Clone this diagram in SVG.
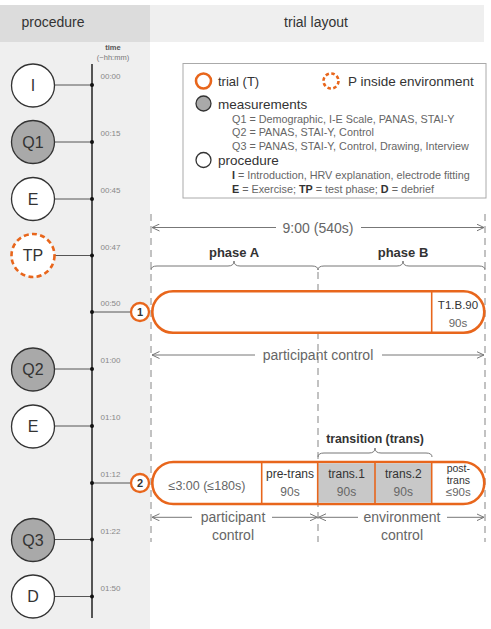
<svg xmlns="http://www.w3.org/2000/svg" width="491" height="629" viewBox="0 0 491 629">
<defs>
<marker id="ah" viewBox="0 0 8 8" refX="7.5" refY="4" markerWidth="8" markerHeight="8" markerUnits="userSpaceOnUse" orient="auto-start-reverse">
<path d="M0,0.5 L7.5,4 L0,7.5" fill="none" stroke="#777" stroke-width="1"/>
</marker>
<style>
text{font-family:"Liberation Sans",Arial,sans-serif;}
.hd{font-size:14px;fill:#333;text-anchor:middle;}
.node circle{stroke:#333;stroke-width:1.3;fill:#fff;}
.node.q circle{fill:#a9a9a9;}
.node text{font-size:16px;fill:#333;text-anchor:middle;dominant-baseline:central;}
.tm{font-size:8px;fill:#888;}
.conn{stroke:#555;stroke-width:1;}
.dot{fill:#111;}
.dash{stroke:#9a9a9a;stroke-width:1.2;stroke-dasharray:7,5;fill:none;}
.arr{stroke:#777;stroke-width:1;fill:none;}
.brace{stroke:#777;stroke-width:1;fill:none;}
.or{stroke:#e8661c;stroke-width:2.6;fill:#fff;}
.ordv{stroke:#e8661c;stroke-width:1.6;}
.g{fill:#666;}
.k{fill:#333;}
.b{font-weight:bold;}
</style>
</defs>

<!-- backgrounds -->
<rect x="0" y="5" width="150" height="37" fill="#dcdcdc"/>
<rect x="150" y="5" width="334" height="37" fill="#efefef"/>
<rect x="0" y="42" width="150" height="587" fill="#efefef"/>
<text class="hd" x="53" y="27">procedure</text>
<text class="hd" x="316" y="27">trial layout</text>

<text x="113" y="50" font-size="7.5" font-weight="bold" fill="#555" text-anchor="middle">time</text>
<text x="113" y="60" font-size="7.5" fill="#777" text-anchor="middle">(~hh:mm)</text>

<!-- legend -->
<g id="legend">
<rect x="183" y="63.5" width="303" height="134.5" fill="#fff" stroke="#aaa" stroke-width="1"/>
<circle cx="203.5" cy="81" r="7.5" fill="#fff" stroke="#e8661c" stroke-width="2.6"/>
<text x="218" y="86" font-size="13" class="k">trial (T)</text>
<circle cx="331" cy="81" r="7.5" fill="#fff" stroke="#e8661c" stroke-width="2.6" stroke-dasharray="3.5,2.4"/>
<text x="348" y="86" font-size="13.5" class="k">P inside environment</text>
<circle cx="203.5" cy="103.5" r="7.5" fill="#a9a9a9" stroke="#333" stroke-width="1.3"/>
<text x="218" y="108.5" font-size="13.5" class="k">measurements</text>
<text x="232" y="123" font-size="10.8" class="g">Q1 = Demographic, I-E Scale, PANAS, STAI-Y</text>
<text x="232" y="136" font-size="10.8" class="g">Q2 = PANAS, STAI-Y, Control</text>
<text x="232" y="150" font-size="10.8" class="g">Q3 = PANAS, STAI-Y, Control, Drawing, Interview</text>
<circle cx="203.5" cy="160" r="7.5" fill="#fff" stroke="#333" stroke-width="1.3"/>
<text x="218" y="165" font-size="13.5" class="k">procedure</text>
<text x="232" y="179" font-size="10.8" class="g"><tspan class="b" fill="#333">I</tspan> = Introduction, HRV explanation, electrode fitting</text>
<text x="232" y="192.5" font-size="10.8" class="g"><tspan class="b" fill="#333">E</tspan> = Exercise; <tspan class="b" fill="#333">TP</tspan> = test phase; <tspan class="b" fill="#333">D</tspan> = debrief</text>
</g>

<!-- connectors -->
<g id="connectors">
<line x1="92" y1="64" x2="92" y2="618" stroke="#222" stroke-width="1.5"/>
<line class="conn" x1="55" y1="85" x2="92" y2="85"/>
<line class="conn" x1="55" y1="142" x2="92" y2="142"/>
<line class="conn" x1="55" y1="199" x2="92" y2="199"/>
<line class="conn" x1="55" y1="255.5" x2="92" y2="255.5"/>
<line class="conn" x1="92" y1="312" x2="131" y2="312"/>
<line class="conn" x1="55" y1="369" x2="92" y2="369"/>
<line class="conn" x1="55" y1="426" x2="92" y2="426"/>
<line class="conn" x1="92" y1="483" x2="131" y2="483"/>
<line class="conn" x1="55" y1="539.5" x2="92" y2="539.5"/>
<line class="conn" x1="55" y1="596.5" x2="92" y2="596.5"/>
<circle class="dot" cx="92" cy="85" r="2"/>
<circle class="dot" cx="92" cy="142" r="2"/>
<circle class="dot" cx="92" cy="199" r="2"/>
<circle class="dot" cx="92" cy="255.5" r="2"/>
<circle class="dot" cx="92" cy="312" r="2"/>
<circle class="dot" cx="92" cy="369" r="2"/>
<circle class="dot" cx="92" cy="426" r="2"/>
<circle class="dot" cx="92" cy="483" r="2"/>
<circle class="dot" cx="92" cy="539.5" r="2"/>
<circle class="dot" cx="92" cy="596.5" r="2"/>
</g>

<!-- time labels -->
<g id="times">
<text class="tm" x="100.5" y="79">00:00</text>
<text class="tm" x="100.5" y="136">00:15</text>
<text class="tm" x="100.5" y="193">00:45</text>
<text class="tm" x="100.5" y="249.5">00:47</text>
<text class="tm" x="100.5" y="306">00:50</text>
<text class="tm" x="100.5" y="363">01:00</text>
<text class="tm" x="100.5" y="420">01:10</text>
<text class="tm" x="100.5" y="476.5">01:12</text>
<text class="tm" x="100.5" y="533.5">01:22</text>
<text class="tm" x="100.5" y="590.5">01:50</text>
</g>

<!-- procedure nodes -->
<g id="node-I" class="node"><circle cx="33" cy="85.5" r="21.5"/><text x="33" y="85.5">I</text></g>
<g id="node-Q1" class="node q"><circle cx="33" cy="142" r="21.5"/><text x="33" y="142">Q1</text></g>
<g id="node-E1" class="node"><circle cx="33" cy="199" r="21.5"/><text x="33" y="199">E</text></g>
<g id="node-TP" class="node"><circle cx="33" cy="255.5" r="21.5" style="stroke:#e8661c;stroke-width:2.6;stroke-dasharray:5,3.3"/><text x="33" y="255.5">TP</text></g>
<g id="node-Q2" class="node q"><circle cx="33" cy="369.5" r="21.5"/><text x="33" y="369.5">Q2</text></g>
<g id="node-E2" class="node"><circle cx="33" cy="426.5" r="21.5"/><text x="33" y="426.5">E</text></g>
<g id="node-Q3" class="node q"><circle cx="33" cy="540" r="21.5"/><text x="33" y="540">Q3</text></g>
<g id="node-D" class="node"><circle cx="33" cy="596.5" r="21.5"/><text x="33" y="596.5">D</text></g>

<!-- dashed guides -->
<line class="dash" x1="151" y1="214" x2="151" y2="542"/>
<line class="dash" x1="318" y1="272" x2="318" y2="542"/>
<line class="dash" x1="485" y1="214" x2="485" y2="542"/>

<!-- top dimension -->
<line class="arr" x1="276" y1="227.5" x2="152" y2="227.5" marker-end="url(#ah)"/>
<line class="arr" x1="361" y1="227.5" x2="484" y2="227.5" marker-end="url(#ah)"/>
<text x="318" y="232.5" font-size="14" class="g" text-anchor="middle">9:00 (540s)</text>
<text x="234" y="256.5" font-size="13" class="k b" text-anchor="middle">phase A</text>
<text x="403" y="256.5" font-size="13" class="k b" text-anchor="middle">phase B</text>
<path class="brace" d="M151,270 Q151,266 157,266 L228,266 Q234,266 234,261 Q234,266 240,266 L312,266 Q318,266 318,270"/>
<path class="brace" d="M318,270 Q318,266 324,266 L397,266 Q403,266 403,261 Q403,266 409,266 L479,266 Q485,266 485,270"/>

<!-- trial 1 -->
<g id="trial-1">
<rect class="or" x="152.3" y="291.3" width="332" height="41.5" rx="20.75"/>
<line class="ordv" x1="431.7" y1="292" x2="431.7" y2="332"/>
<text x="458" y="309" font-size="11.5" class="k" text-anchor="middle">T1.B.90</text>
<text x="458" y="327" font-size="11.5" class="g" text-anchor="middle">90s</text>
</g>
<g id="marker-1">
<circle cx="140" cy="312" r="9" fill="#fff" stroke="#e8661c" stroke-width="2.3"/>
<text x="140" y="316" font-size="11" class="k b" text-anchor="middle">1</text>
</g>

<line class="arr" x1="255" y1="355" x2="152" y2="355" marker-end="url(#ah)"/>
<line class="arr" x1="382" y1="355" x2="484" y2="355" marker-end="url(#ah)"/>
<text x="318" y="360" font-size="14" class="g" text-anchor="middle">participant control</text>

<!-- trial 2 -->
<text x="375" y="442.5" font-size="12.3" class="k b" text-anchor="middle">transition (trans)</text>
<path class="brace" d="M318,457 Q318,453 324,453 L369,453 Q375,453 375,448 Q375,453 381,453 L426,453 Q432,453 432,457"/>
<g id="trial-2">
<rect class="or" x="152.3" y="462" width="332" height="42" rx="21"/>
<rect x="317.7" y="463.3" width="114" height="39.4" fill="#c8c8c8"/>
<line class="ordv" x1="261.7" y1="463" x2="261.7" y2="503"/>
<line class="ordv" x1="317.7" y1="463" x2="317.7" y2="503"/>
<line class="ordv" x1="375" y1="463" x2="375" y2="503"/>
<line class="ordv" x1="431.7" y1="463" x2="431.7" y2="503"/>
<text x="207" y="489.5" font-size="12.5" class="g" text-anchor="middle">≤3:00 (≤180s)</text>
<text x="290" y="477.5" font-size="12" class="k" text-anchor="middle">pre-trans</text>
<text x="290" y="496" font-size="12" class="g" text-anchor="middle">90s</text>
<text x="346.5" y="477.5" font-size="12" class="k" text-anchor="middle">trans.1</text>
<text x="346.5" y="496" font-size="12" class="g" text-anchor="middle">90s</text>
<text x="403.3" y="477.5" font-size="12" class="k" text-anchor="middle">trans.2</text>
<text x="403.3" y="496" font-size="12" class="g" text-anchor="middle">90s</text>
<text x="458.3" y="471.5" font-size="10.5" class="k" text-anchor="middle">post-</text>
<text x="458.3" y="483.5" font-size="10.5" class="k" text-anchor="middle">trans</text>
<text x="458.3" y="496" font-size="11.5" class="g" text-anchor="middle">≤90s</text>
</g>
<g id="marker-2">
<circle cx="140" cy="483" r="9" fill="#fff" stroke="#e8661c" stroke-width="2.3"/>
<text x="140" y="487" font-size="11" class="k b" text-anchor="middle">2</text>
</g>

<line class="arr" x1="192" y1="517.3" x2="152" y2="517.3" marker-end="url(#ah)"/>
<line class="arr" x1="272" y1="517.3" x2="317.5" y2="517.3" marker-end="url(#ah)"/>
<line class="arr" x1="358" y1="517.3" x2="318.5" y2="517.3" marker-end="url(#ah)"/>
<line class="arr" x1="447" y1="517.3" x2="484" y2="517.3" marker-end="url(#ah)"/>
<text x="233" y="522" font-size="14" class="g" text-anchor="middle">participant</text>
<text x="233" y="539.5" font-size="14" class="g" text-anchor="middle">control</text>
<text x="402" y="522" font-size="14" class="g" text-anchor="middle">environment</text>
<text x="402" y="539.5" font-size="14" class="g" text-anchor="middle">control</text>
</svg>
